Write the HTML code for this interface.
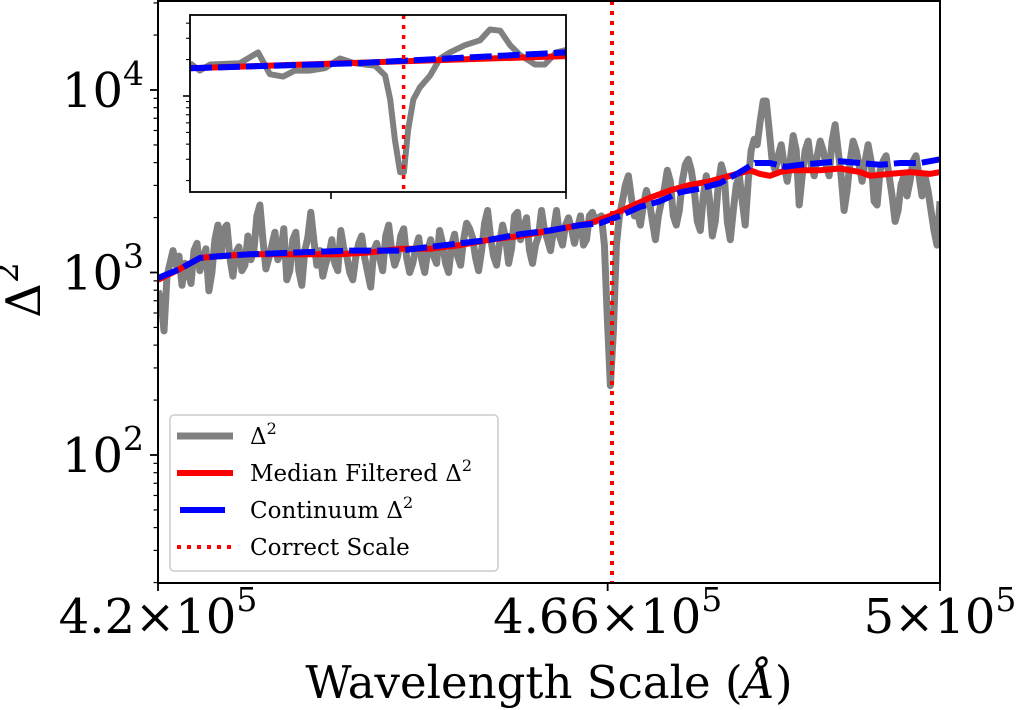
<!DOCTYPE html>
<html><head><meta charset="utf-8"><style>
html,body{margin:0;padding:0;background:#fff;}
svg{display:block;font-family:"DejaVu Serif","Liberation Serif",serif;}
</style></head><body>
<svg id="chart" width="1020" height="710" viewBox="0 0 1020 710" xmlns="http://www.w3.org/2000/svg"></svg>
<script>
// ---------- data ----------
const xRange = [420000, 500000];
const xTickValues = [420000, 466000, 500000];
const xTickMantissa = ["4.2", "4.66", "5"];
const yTickExponents = [2, 3, 4];
const correctScale = 466445;
// gray Δ² (log10 values), evenly sampled on the wavelength grid
const deltaLog = [2.90,2.85,2.68,2.98,3.05,3.12,3.04,3.09,2.93,3.05,3.01,
2.94,3.12,3.16,3.01,3.08,3.13,2.90,3.00,3.18,3.26,
3.09,3.24,3.26,3.08,2.98,3.11,3.14,3.01,3.04,3.20,
3.07,3.12,3.31,3.37,3.18,3.02,3.08,3.15,3.22,3.07,
3.11,3.24,2.96,3.01,3.18,3.22,3.01,2.93,3.12,3.19,
3.33,3.18,3.04,3.12,2.98,3.05,3.09,3.18,3.05,3.01,
3.23,3.13,3.09,3.00,2.96,3.08,3.16,3.20,3.08,3.00,
2.92,3.12,3.16,3.08,3.01,3.20,3.26,3.12,3.04,3.09,
3.20,3.24,3.08,3.00,3.05,3.13,3.19,3.07,3.00,3.12,
3.18,3.09,3.05,3.23,3.16,3.05,3.00,3.15,3.21,3.09,
3.04,3.18,3.27,3.24,3.19,3.08,3.01,3.12,3.27,3.34,
3.19,3.09,3.04,3.16,3.26,3.19,3.05,3.13,3.31,3.33,
3.18,3.24,3.30,3.12,3.05,3.15,3.20,3.34,3.23,3.18,
3.12,3.23,3.34,3.20,3.15,3.26,3.30,3.24,3.16,3.24,
3.31,3.15,3.18,3.31,3.33,3.28,3.30,3.31,3.15,2.74,
2.38,
2.68,3.15,3.31,3.39,3.48,3.53,3.41,3.31,3.33,3.26,
3.37,3.45,3.39,3.28,3.18,3.31,3.39,3.46,3.56,3.50,
3.31,3.26,3.34,3.50,3.59,3.62,3.56,3.45,3.28,3.23,
3.42,3.53,3.41,3.20,3.28,3.48,3.59,3.53,3.28,3.18,
3.34,3.48,3.53,3.39,3.26,3.50,3.67,3.73,3.70,3.83,
3.94,3.94,3.78,3.61,3.56,3.64,3.70,3.59,3.50,3.61,
3.75,3.67,3.37,3.53,3.67,3.72,3.59,3.53,3.64,3.72,
3.67,3.59,3.53,3.72,3.81,3.67,3.53,3.34,3.45,3.61,
3.72,3.67,3.59,3.50,3.61,3.70,3.61,3.39,3.37,3.56,
3.61,3.64,3.53,3.42,3.28,3.34,3.48,3.53,3.42,3.50,
3.61,3.64,3.53,3.42,3.53,3.45,3.34,3.23,3.15,3.39];
const medianWl = [420000,422250,424300,426340,429410,432480,435550,438620,441690,444760,447830,450900,453960,457030,460100,462150,464190,466240,468290,470330,472380,474420,476470,478520,480560,481590,482610,483630,484650,485680,487720,489770,491820,492840,494880,496930,498980,500000];
const medianLog = [2.96,3.02,3.08,3.09,3.10,3.10,3.10,3.10,3.11,3.13,3.13,3.15,3.18,3.20,3.23,3.25,3.27,3.31,3.36,3.41,3.45,3.48,3.50,3.53,3.56,3.54,3.53,3.55,3.56,3.56,3.56,3.57,3.55,3.53,3.54,3.55,3.54,3.55];
const contWl = [420000,422250,424300,426340,429410,434530,439640,444760,447830,450900,453960,457030,460100,463170,465220,467260,469310,471350,473400,475450,477490,479540,481070,482610,484140,485680,487720,489770,491820,493860,495910,497950,500000];
const contLog = [2.97,3.02,3.08,3.09,3.10,3.11,3.12,3.12,3.14,3.16,3.18,3.21,3.23,3.26,3.27,3.31,3.36,3.39,3.44,3.46,3.49,3.55,3.60,3.60,3.58,3.59,3.60,3.61,3.60,3.59,3.60,3.60,3.62];
// inset
const insetRange = [461900, 469900];
const insetTick = 464900;
const insetWl = [461900,462110,462330,462960,463350,463600,463880,464130,464450,464770,465090,465410,465840,466050,466160,466260,466370,466450,466540,466650,466790,467010,467220,467430,467750,468070,468280,468500,468710,468920,469240,469450,469690,469900];
const insetLog = [4.27,4.21,4.26,4.27,4.36,4.18,4.16,4.21,4.21,4.23,4.31,4.27,4.25,4.17,3.97,3.64,3.37,3.37,3.72,3.97,4.07,4.17,4.31,4.36,4.42,4.46,4.55,4.54,4.42,4.34,4.26,4.26,4.36,4.38];
const insetMedWl = [461900, 469900];
const insetMedLog = [4.23, 4.33];
const insetContWl = [461900, 465400, 469900];
const insetContLog = [4.23, 4.27, 4.36];

// ---------- helpers ----------
const NS = "http://www.w3.org/2000/svg";
const svg = document.getElementById("chart");
function mk(tag, attrs, parent){const e=document.createElementNS(NS,tag);for(const k in attrs)e.setAttribute(k,attrs[k]);(parent||svg).appendChild(e);return e;}
const P = {l:158, r:940, t:1, b:583};
const yTop = 4 + 89/182.5, yBot = 2 - 128/182.5;
const xs = v => P.l + (v - xRange[0])/(xRange[1]-xRange[0])*(P.r-P.l);
const ys = L => P.t + (yTop - L)/(yTop - yBot)*(P.b-P.t);
const I = {l:190, r:566, t:15, b:192};
const iyTop = 4 + 81/121, iyBot = 4 - 96/121;
const ixs = v => I.l + (v - insetRange[0])/(insetRange[1]-insetRange[0])*(I.r-I.l);
const iys = L => I.t + (iyTop - L)/(iyTop - iyBot)*(I.b-I.t);
function pathD(xsArr, ysArr, fx, fy){return xsArr.map((x,i)=>(i?"L":"M")+fx(x).toFixed(1)+" "+fy(ysArr[i]).toFixed(1)).join(" ");}

const defs = mk("defs",{});
const cp = mk("clipPath",{id:"mainclip"},defs); mk("rect",{x:P.l,y:P.t,width:P.r-P.l,height:P.b-P.t},cp);
const cp2 = mk("clipPath",{id:"insetclip"},defs); mk("rect",{x:I.l,y:I.t,width:I.r-I.l,height:I.b-I.t},cp2);

// ---------- main series ----------
const plot = mk("g",{"clip-path":"url(#mainclip)"});


const grid = deltaLog.map((_,i)=>xRange[0] + i*(xRange[1]-xRange[0])/(deltaLog.length-1));
const g1 = mk("path",{d:pathD(grid, deltaLog, xs, ys), fill:"none", stroke:"#808080","stroke-width":7,"stroke-linejoin":"round"},plot);


const r1 = mk("path",{d:pathD(medianWl, medianLog, xs, ys), fill:"none", stroke:"#ff0000","stroke-width":6,"stroke-linejoin":"round"},plot);


const b1 = mk("path",{d:pathD(contWl, contLog, xs, ys), fill:"none", stroke:"#0000ff","stroke-width":6,"stroke-dasharray":"22 6"},plot);


const v1 = mk("line",{x1:xs(correctScale),x2:xs(correctScale),y1:P.t,y2:P.b,stroke:"#ff0000","stroke-width":4,"stroke-dasharray":"4 6"},plot);



const fr = mk("rect",{x:P.l,y:P.t,width:P.r-P.l,height:P.b-P.t,fill:"none",stroke:"#000","stroke-width":2});



for(let e=1;e<=4;e++){
  for(let m=1;m<=9;m++){
    const L = e + Math.log10(m);
    if(L<yBot||L>yTop) continue;
    const y = ys(L);
    const t = mk("line",{x1:P.l,x2:P.l-(m===1?8:4.5),y1:y,y2:y,stroke:"#000","stroke-width":m===1?1.8:1.2});
    
    
  }
}
yTickExponents.forEach(e=>{
  const t = mk("text",{x:P.l-14,y:ys(e)+17,"text-anchor":"end","font-size":48,fill:"#000"});
  
  
  t.innerHTML = '10<tspan dy="-22" font-size="33">'+e+'</tspan>';
});
xTickValues.forEach((v,i)=>{
  const x = xs(v);
  const t = mk("line",{x1:x,x2:x,y1:P.b,y2:P.b+8,stroke:"#000","stroke-width":1.8});
  
  
  const lb = mk("text",{x:x,y:P.b+50,"text-anchor":"middle","font-size":48,fill:"#000"});
  
  
  lb.innerHTML = xTickMantissa[i]+'×10<tspan dy="-22" font-size="33">5</tspan>';
});
const xl = mk("text",{x:549,y:698,"text-anchor":"middle","font-size":45,fill:"#000"});


xl.innerHTML = 'Wavelength Scale (<tspan font-style="italic">Å</tspan>)';
const yl = mk("text",{x:0,y:0,"text-anchor":"middle","font-size":48,fill:"#000",transform:"translate(40,290) rotate(-90)"});


yl.innerHTML = 'Δ<tspan dy="-22" font-size="33">2</tspan>';

// ---------- inset ----------
const ibg = mk("rect",{x:I.l,y:I.t,width:I.r-I.l,height:I.b-I.t,fill:"#fff"});


const ip = mk("g",{"clip-path":"url(#insetclip)"});


const g2 = mk("path",{d:pathD(insetWl, insetLog, ixs, iys), fill:"none", stroke:"#808080","stroke-width":6,"stroke-linejoin":"round"},ip);


const r2 = mk("path",{d:pathD(insetMedWl, insetMedLog, ixs, iys), fill:"none", stroke:"#ff0000","stroke-width":6},ip);


const b2 = mk("path",{d:pathD(insetContWl, insetContLog, ixs, iys), fill:"none", stroke:"#0000ff","stroke-width":6,"stroke-dasharray":"22 6"},ip);


const v2 = mk("line",{x1:ixs(correctScale),x2:ixs(correctScale),y1:I.t,y2:I.b,stroke:"#ff0000","stroke-width":3.5,"stroke-dasharray":"4 6"},ip);


const ifr = mk("rect",{x:I.l,y:I.t,width:I.r-I.l,height:I.b-I.t,fill:"none",stroke:"#000","stroke-width":1.8});


for(let e=3;e<=4;e++){
  for(let m=1;m<=9;m++){
    const L = e + Math.log10(m);
    if(L<iyBot||L>iyTop) continue;
    const y = iys(L);
    const t = mk("line",{x1:I.l,x2:I.l-(m===1?7:4),y1:y,y2:y,stroke:"#000","stroke-width":m===1?1.6:1.1});
    
    
  }
}
[insetTick, insetRange[1]].forEach(v=>{
  const t = mk("line",{x1:ixs(v),x2:ixs(v),y1:I.b,y2:I.b+7,stroke:"#000","stroke-width":1.6});
  
  
});

// ---------- legend ----------
const lg = mk("g",{});


mk("rect",{x:170,y:415,width:328,height:156,rx:4,fill:"#fff","fill-opacity":0.85,stroke:"#cccccc","stroke-width":1.5},lg);
const items = [
  {label:'Δ<tspan dy="-10" font-size="16">2</tspan>', stroke:"#808080", w:7, dash:null, y:436},
  {label:'Median Filtered Δ<tspan dy="-10" font-size="16">2</tspan>', stroke:"#ff0000", w:6, dash:null, y:473},
  {label:'Continuum Δ<tspan dy="-10" font-size="16">2</tspan>', stroke:"#0000ff", w:6, dash:"b", y:510},
  {label:'Correct Scale', stroke:"#ff0000", w:4, dash:"4 6", y:547}
];
items.forEach(it=>{
  const row = mk("g",{},lg);
  
  
  const a = {x1:177,x2:233,y1:it.y,y2:it.y,stroke:it.stroke,"stroke-width":it.w};
  if(it.dash==="b"){a.x1=180;a.x2=225;}
  else if(it.dash) a["stroke-dasharray"]=it.dash;
  mk("line",a,row);
  const t = mk("text",{x:250,y:it.y+8,"font-size":23,fill:"#000"},row);
  t.innerHTML = it.label;
});
</script>
</body></html>
